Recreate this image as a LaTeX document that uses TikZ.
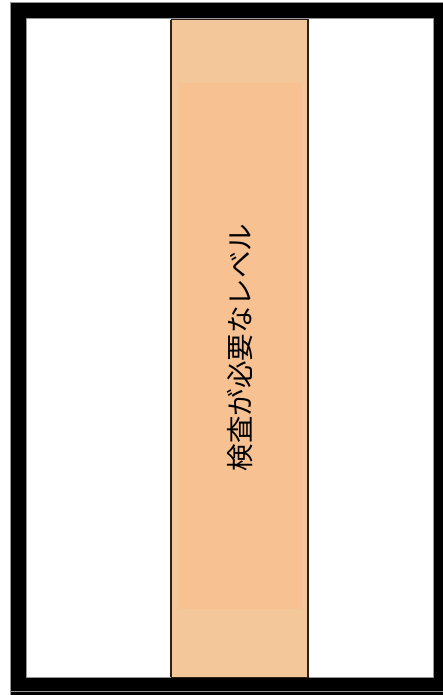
\documentclass[tikz,border=0pt]{standalone}
\usepackage{fontspec}
\newfontfamily\cjk{Noto Sans CJK JP}
\definecolor{bandout}{RGB}{243,199,153}
\definecolor{bandin}{RGB}{247,193,146}
\definecolor{bandedge}{RGB}{45,32,22}
\definecolor{framegray}{RGB}{150,150,150}
\tikzset{
  frameline/.style={draw=framegray,line width=1pt},
  bandbox/.style={fill=bandout,draw=bandedge,line width=1pt},
  bandlabel/.style={font=\cjk\fontsize{27.5}{30}\selectfont,rotate=90,text=black}
}
\begin{document}
\begin{tikzpicture}[x=1pt,y=-1pt]
\useasboundingbox (0,0) rectangle (443,695);
\fill[white] (0,0) rectangle (443,695);
% black frame
\fill[black,even odd rule] (10.5,2.5) rectangle (443,695) (26.5,18.5) rectangle (433,678);
\draw[frameline] (10.5,695) -- (10.5,2.5) -- (443,2.5);
\draw[frameline] (26.5,18.5) rectangle (433,677.5);
\draw[frameline] (10.5,691) -- (443,691);
% band
\draw[bandbox] (171,20) rectangle (308,677);
\fill[bandin] (179,83) rectangle (302,609);
\draw[bandedge,line width=1.2pt] (171,20) -- (171,677) (308,20) -- (308,677);
\node[bandlabel] (lbl) at (240,347.5) {検査が必要なレベル};
\end{tikzpicture}
\end{document}
